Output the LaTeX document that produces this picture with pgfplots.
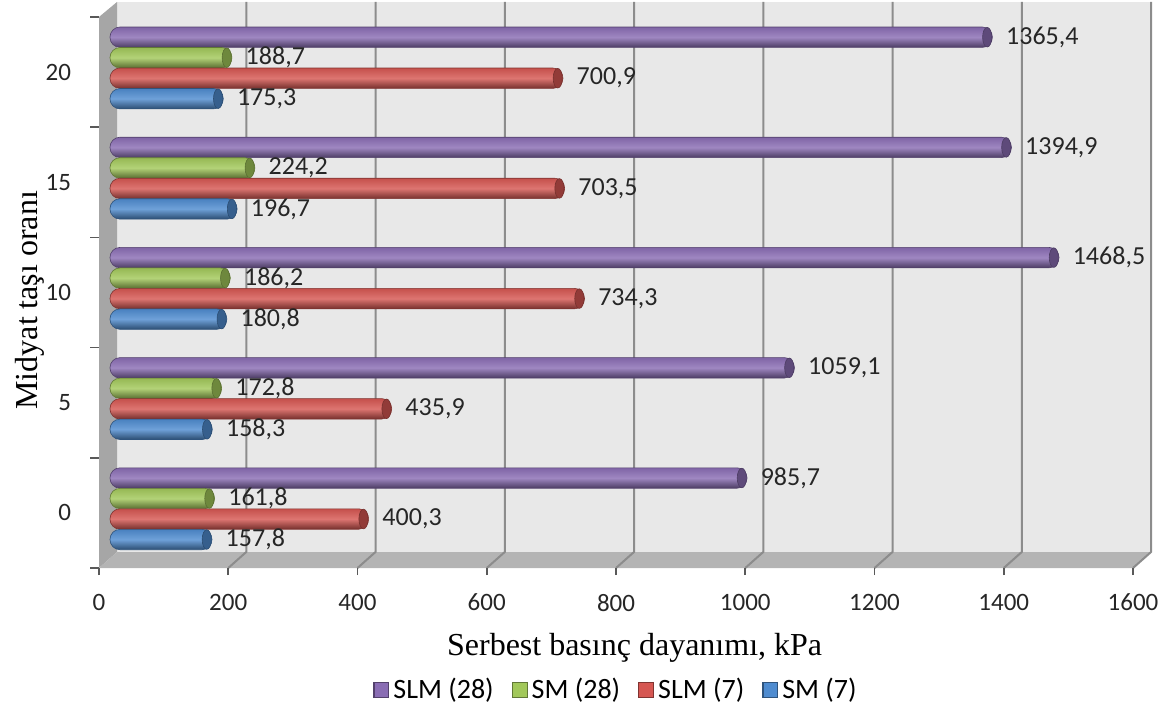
\documentclass[border=0pt]{standalone}
\usepackage{fontspec}
\setmainfont{Carlito}
\newfontfamily\serif{Liberation Serif}
\usepackage{pgfplots}
\pgfplotsset{compat=1.18}

\definecolor{slmA}{HTML}{8A6DB4}
\definecolor{smA}{HTML}{A2C85A}
\definecolor{slmB}{HTML}{D65752}
\definecolor{smB}{HTML}{4F8CD0}
\definecolor{backwall}{HTML}{E8E8E8}
\definecolor{sidewall}{HTML}{A6A6A6}
\definecolor{floorc}{HTML}{B4B4B4}
\definecolor{gridc}{HTML}{8C8C8C}

% elliptic end cap of a cylinder
\pgfdeclareplotmark{cap}{%
  \pgfpathellipse{\pgfpointorigin}{\pgfpoint{2.3pt}{0pt}}{\pgfpoint{0pt}{4.9pt}}%
  \pgfusepathqfillstroke}

% cylinder-like bar look for one series colour; every bar is its own plot
% so that the vertical shading belongs to that bar alone
\pgfplotsset{
  cyl/.style={xbar, bar width=10.2pt, xshift=5.5pt, rounded corners=5pt,
    draw=#1!60!black, line width=0.3pt,
    top color=#1!92!black, bottom color=#1!55!black, middle color=#1!82!white,
    mark=cap, mark options={fill=#1!68!black, draw=#1!55!black, line width=0.3pt},
    forget plot},
  % the mark shift moves the end cap and the value label together
  depth/.style={bar shift=#1,
    every mark/.append style={xshift=-2.6pt, yshift=#1},
    nodes near coords style={xshift=6pt}},
  slm28/.style={cyl=slmA, depth=17.45pt},
  sm28/.style={cyl=smA, depth=7.2pt},
  slm7/.style={cyl=slmB, depth=-3.05pt},
  sm7/.style={cyl=smB, depth=-13.3pt},
  boxlegend/.style={legend image code/.code={\draw[sharp corners, draw=#1!60!black, fill=#1, line width=0.6pt]
      (0pt,-3.7pt) rectangle (7.4pt,3.7pt);}},
}

\begin{document}
\begin{tikzpicture}
\useasboundingbox (0,0) rectangle (583pt,356.5pt);
% 3-D walls, floor and gridlines (pixel-like units, y downwards)
\begin{scope}[shift={(0,356.5pt)}, x=0.5pt, y=-0.5pt]
  \fill[backwall] (117,2) rectangle (1151,552);
  \fill[sidewall] (99,17) -- (117,2) -- (117,552) -- (99,568) -- cycle;
  \fill[floorc] (99,568) -- (117,552) -- (1151,552) -- (1133,568) -- cycle;
  \foreach \v in {200,400,...,1600} {
    \draw[gridc, line width=1pt] ({99+0.64625*\v},568) -- ({117+0.64625*\v},552) -- ({117+0.64625*\v},2);
  }
\end{scope}

\begin{axis}[
  at={(49.5pt,72.5pt)}, anchor=south west,
  scale only axis, width=517pt, height=275.5pt,
  xmin=0, xmax=1600, ymin=-0.5, ymax=4.5,
  axis x line*=bottom, axis y line*=left, axis line style={draw=none},
  xtick={0,200,...,1600},
  ytick={0,1,2,3,4}, yticklabels={0,5,10,15,20},
  minor ytick={-0.5,0.5,1.5,2.5,3.5,4.5},
  tick align=outside,
  major tick length=3.5pt, minor tick length=4.5pt,
  tick style={gray!70!black, line width=0.8pt},
  major y tick style={draw=none},
  /pgf/number format/.cd, 1000 sep={}, assume math mode=true, /pgfplots/.cd,
  ticklabel style={font=\fontsize{12.5}{14}\selectfont, color=black!85},
  xticklabel style={yshift=-6pt},
  yticklabel style={xshift=-7pt},
  xlabel={Serbest basınç dayanımı, kPa},
  xlabel style={font=\serif\fontsize{16}{18}\selectfont, at={(axis description cs:0.518,-0.145)}, anchor=center},
  ylabel={Midyat taşı oranı},
  ylabel style={font=\serif\fontsize{16}{18}\selectfont, at={(axis description cs:-0.0667,0.486)}, anchor=center},
  point meta=x,
  nodes near coords={\pgfmathprintnumber[fixed, fixed zerofill, precision=1, use comma, 1000 sep={}]{\pgfplotspointmeta}},
  nodes near coords style={font=\fontsize{13}{15}\selectfont, color=black!85, anchor=west},
  legend style={at={(0.501,-0.2214)}, anchor=center, legend columns=4, draw=none, fill=none,
    font=\fontsize{14}{16}\selectfont,
    /tikz/every even column/.append style={column sep=7pt}},
  clip=false,
]
% SLM (28)
\addplot[slm28] coordinates {(985.7,0)};
\addplot[slm28] coordinates {(1059.1,1)};
\addplot[slm28] coordinates {(1468.5,2)};
\addplot[slm28] coordinates {(1394.9,3)};
\addplot[slm28] coordinates {(1365.4,4)};
% SM (28)
\addplot[sm28] coordinates {(161.8,0)};
\addplot[sm28] coordinates {(172.8,1)};
\addplot[sm28] coordinates {(186.2,2)};
\addplot[sm28] coordinates {(224.2,3)};
\addplot[sm28] coordinates {(188.7,4)};
% SLM (7)
\addplot[slm7] coordinates {(400.3,0)};
\addplot[slm7] coordinates {(435.9,1)};
\addplot[slm7] coordinates {(734.3,2)};
\addplot[slm7] coordinates {(703.5,3)};
\addplot[slm7] coordinates {(700.9,4)};
% SM (7)
\addplot[sm7] coordinates {(157.8,0)};
\addplot[sm7] coordinates {(158.3,1)};
\addplot[sm7] coordinates {(180.8,2)};
\addplot[sm7] coordinates {(196.7,3)};
\addplot[sm7] coordinates {(175.3,4)};

\addlegendimage{boxlegend=slmA}\addlegendentry{SLM (28)}
\addlegendimage{boxlegend=smA}\addlegendentry{SM (28)}
\addlegendimage{boxlegend=slmB}\addlegendentry{SLM (7)}
\addlegendimage{boxlegend=smB}\addlegendentry{SM (7)}
\end{axis}
\end{tikzpicture}
\end{document}
